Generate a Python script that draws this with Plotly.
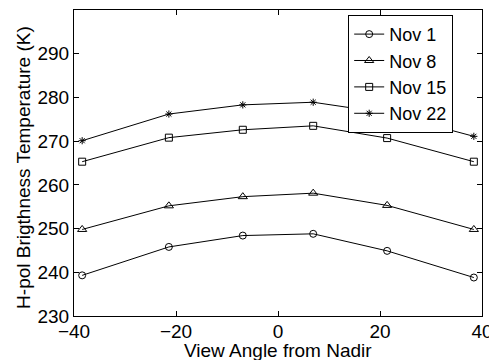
import plotly.graph_objects as go

angles = [-38.4, -21.4, -6.9, 6.9, 21.4, 38.4]
nov1 = [239.3, 245.8, 248.4, 248.8, 244.9, 238.8]
nov8 = [249.8, 255.2, 257.3, 258.1, 255.3, 249.8]
nov15 = [265.3, 270.8, 272.6, 273.5, 270.7, 265.3]
nov22 = [270.1, 276.2, 278.3, 278.9, 276.4, 271.1]
series_names = ["Nov 1", "Nov 8", "Nov 15", "Nov 22"]
symbols = ["circle-open", "triangle-up-open", "square-open", "asterisk-open"]
sizes = [7, 8, 7, 6]
x_ticks = [-40, -20, 0, 20, 40]
y_ticks = [230, 240, 250, 260, 270, 280, 290]
x_title = "View Angle from Nadir"
y_title = "H-pol Brigthness Temperature (K)"

FONT = "Liberation Sans, Arial, sans-serif"
FS = 19

fig = go.Figure()
for name, vals, sym, sz in zip(series_names, [nov1, nov8, nov15, nov22], symbols, sizes):
    fig.add_trace(go.Scatter(
        x=angles, y=vals, name=name, mode="lines+markers",
        line=dict(color="black", width=1),
        marker=dict(symbol=sym, size=sz, color="black", line=dict(color="black", width=1)),
    ))

axis_common = dict(
    showline=True, linecolor="black", linewidth=1, mirror="ticks",
    ticks="inside", ticklen=5, tickcolor="black", showgrid=False, zeroline=False,
    tickfont=dict(family=FONT, size=FS, color="black"), automargin=False,
)
fig.update_layout(
    width=497, height=360,
    margin=dict(l=66, r=23, t=2, b=52),
    paper_bgcolor="white", plot_bgcolor="white",
    font=dict(family=FONT, size=FS, color="black"),
    xaxis=dict(range=[-40, 40], tickvals=x_ticks, ticklabelstandoff=-2, **axis_common),
    yaxis=dict(range=[230, 300], tickvals=y_ticks, **axis_common),
    legend=dict(x=0.672, y=0.984, xanchor="left", yanchor="top",
                bgcolor="white", bordercolor="black", borderwidth=1,
                font=dict(size=18), tracegroupgap=0, itemwidth=30),
    showlegend=True,
    annotations=[
        dict(text=x_title, xref="paper", yref="paper", x=0.5, y=-0.114,
             xanchor="center", yanchor="middle", showarrow=False,
             font=dict(family=FONT, size=FS, color="black")),
        dict(text=y_title, xref="paper", yref="paper", x=-0.1225, y=0.484,
             xanchor="center", yanchor="middle", showarrow=False, textangle=-90,
             font=dict(family=FONT, size=FS, color="black")),
    ],
)
fig.write_html("out.html")
